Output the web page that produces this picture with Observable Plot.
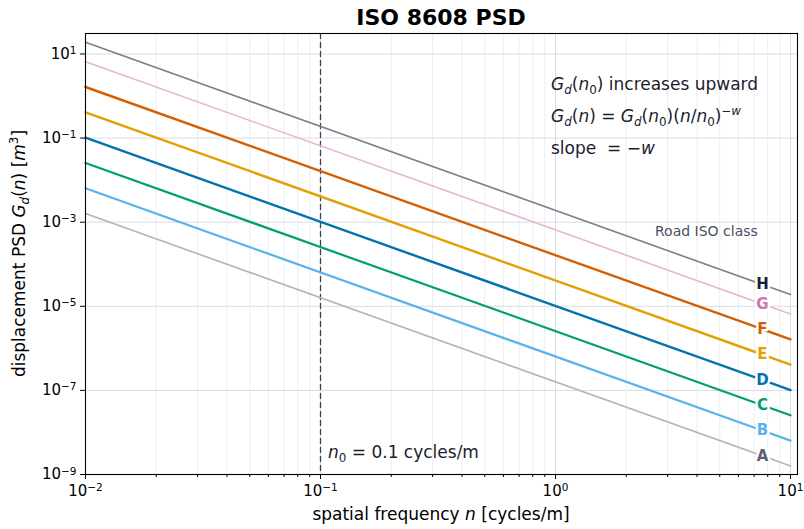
<!DOCTYPE html>
<html>
<head>
<meta charset="utf-8">
<script src="https://cdn.jsdelivr.net/npm/d3@7"></script>
<script src="https://cdn.jsdelivr.net/npm/@observablehq/plot@0.6"></script>
<style>
  html, body { margin: 0; padding: 0; background: white; }
  #title { width: 804px; height: 30px; box-sizing: border-box; padding-left: 78px; text-align: center;
           font-family: "DejaVu Sans", sans-serif; font-weight: bold; font-size: 22px; line-height: 35px; color: #000; overflow: visible; }
  #chart svg { display: block; }
</style>
</head>
<body>
<div id="title">ISO 8608 PSD</div>
<div id="chart"></div>
<script>
// ---- data ----
const classes = ["A", "B", "C", "D", "E", "F", "G", "H"];
const nRange = [0.01, 10];                       // spatial frequency span of each line [cycles/m]
const psdAtNmin = [1.6e-3, 6.4e-3, 2.56e-2, 1.02e-1, 4.1e-1, 1.64, 6.55, 19];          // G_d at n = 0.01
const psdAtNmax = [1.6e-9, 6.4e-9, 2.56e-8, 1.02e-7, 4.1e-7, 1.64e-6, 6.55e-6, 1.9e-5]; // G_d at n = 10
const n0 = 0.1;
const labelN = 7.6;                              // where the class letters sit
const majorX = [0.01, 0.1, 1, 10];
const minorX = [2,3,4,5,6,7,8,9].flatMap(k => [0.01, 0.1, 1].map(d => k * d)).filter(v => v < 10.7);
const majorY = [10, 1e-1, 1e-3, 1e-5, 1e-7, 1e-9];

// ---- styles ----
const lineColors  = ["#b2b3bc", "#56B4E9", "#009E73", "#0072B2", "#E69F00", "#D55E00", "#e7b5d3", "#7d7f8b"];
const labelColors = ["#5e6175", "#56B4E9", "#009E73", "#0072B2", "#E69F00", "#D55E00", "#CC79A7", "#1a1e38"];
const lineWidths  = [1.6, 2.2, 2.2, 2.4, 2.4, 2.4, 1.6, 1.6];

const rows = classes.flatMap((c, i) => [
  {cls: c, n: nRange[0], psd: psdAtNmin[i]},
  {cls: c, n: nRange[1], psd: psdAtNmax[i]}
]);
const labelRows = classes.map((c, i) => {
  const t = (Math.log10(labelN) - Math.log10(nRange[0])) / (Math.log10(nRange[1]) - Math.log10(nRange[0]));
  const lp = Math.log10(psdAtNmin[i]) + t * (Math.log10(psdAtNmax[i]) - Math.log10(psdAtNmin[i]));
  return {cls: c, n: labelN, psd: Math.pow(10, lp)};
});

const fmt = d => "10^" + String(Math.round(Math.log10(d))).replace("-", "−");

const chart = Plot.plot({
  width: 804, height: 499,
  marginTop: 3, marginRight: 7, marginBottom: 55, marginLeft: 85,
  style: {fontFamily: "DejaVu Sans", fontSize: "15px", color: "#000", background: "white"},
  x: {type: "log", domain: [0.01, 10.71], label: null},
  y: {type: "log", domain: [1e-9, 30.7], label: null},
  marks: [
    Plot.gridX(minorX, {stroke: "#eceef3", strokeOpacity: 1}),
    Plot.gridX(majorX, {stroke: "#d9dce5", strokeOpacity: 1}),
    Plot.gridY(majorY, {stroke: "#d9dce5", strokeOpacity: 1}),
    Plot.ruleX([n0], {stroke: "#3b4058", strokeDasharray: "6,3", strokeWidth: 1.3}),
    ...classes.map((c, i) => Plot.line(rows.filter(r => r.cls === c), {
      x: "n", y: "psd", stroke: lineColors[i], strokeWidth: lineWidths[i]
    })),
    ...classes.map((c, i) => Plot.text(labelRows.filter(r => r.cls === c), {
      x: "n", y: "psd", text: "cls", fill: labelColors[i], stroke: "white", strokeWidth: 5,
      fontWeight: "bold", fontSize: 15
    })),
    Plot.axisX(minorX, {tickSize: 3, tickFormat: () => "", label: null}),
    Plot.axisX(majorX, {tickSize: 5, tickPadding: 6, tickFormat: fmt, label: null}),
    Plot.axisY(majorY, {tickSize: 5, tickPadding: 4, tickFormat: fmt, label: null}),
    Plot.frame({stroke: "#000", strokeWidth: 1.1})
  ]
});
document.getElementById("chart").appendChild(chart);

const svg = d3.select(chart);

// tick labels: 10 with a real superscript exponent
svg.selectAll("text").each(function () {
  const s = this.textContent;
  if (!s.startsWith("10^")) return;
  const exp = s.slice(3);
  const el = d3.select(this);
  el.text("10");
  el.append("tspan").attr("dy", "-0.45em").attr("font-size", "0.7em").text(exp);
});

// ---- math-style texts ----
function mathText(x, y, parts, opts = {}) {
  const size = opts.size || 17;
  const t = svg.append("text")
    .attr("font-family", "DejaVu Sans")
    .attr("font-size", size)
    .attr("fill", opts.fill || "#1a1d2e")
    .attr("text-anchor", opts.anchor || "start");
  if (opts.rotate) t.attr("transform", `translate(${x},${y}) rotate(${opts.rotate})`);
  else t.attr("x", x).attr("y", y);
  let cur = 0;
  for (const p of parts) {
    const target = p.sub ? 0.22 * size : p.sup ? -0.42 * size : 0;
    const s = t.append("tspan").text(p.t).attr("dy", target - cur);
    cur = target;
    if (p.i) s.attr("font-style", "italic");
    if (p.sub || p.sup) s.attr("font-size", "0.7em");
  }
  return t;
}
const G = [{t: "G", i: true}, {t: "d", i: true, sub: true}];
mathText(551, 60, [...G, {t: "("}, {t: "n", i: true}, {t: "0", sub: true}, {t: ") increases upward"}]);
mathText(551, 92, [...G, {t: "("}, {t: "n", i: true}, {t: ") = "}, ...G, {t: "("}, {t: "n", i: true}, {t: "0", sub: true},
  {t: ")("}, {t: "n", i: true}, {t: "/"}, {t: "n", i: true}, {t: "0", sub: true}, {t: ")"}, {t: "−", sup: true}, {t: "w", i: true, sup: true}]);
mathText(551, 124, [{t: "slope  = −"}, {t: "w", i: true}]);
mathText(328, 428, [{t: "n", i: true}, {t: "0", sub: true}, {t: " = 0.1 cycles/m"}]);
mathText(655, 205.5, [{t: "Road ISO class"}], {size: 14, fill: "#4a4f66"});
mathText(441, 490, [{t: "spatial frequency "}, {t: "n", i: true}, {t: " [cycles/m]"}], {anchor: "middle", fill: "#000"});
mathText(25, 223.5, [{t: "displacement PSD "}, ...G, {t: "("}, {t: "n", i: true}, {t: ") ["}, {t: "m", i: true}, {t: "3", sup: true}, {t: "]"}],
  {anchor: "middle", rotate: -90, fill: "#000"});
</script>
</body>
</html>
